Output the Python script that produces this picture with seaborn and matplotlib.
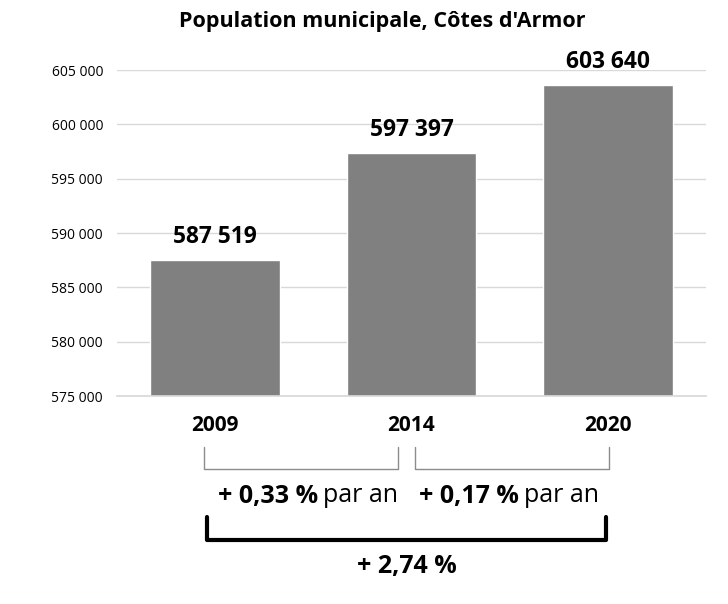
import matplotlib
matplotlib.use('Agg')
import matplotlib.pyplot as plt
import seaborn as sns
import pandas as pd

# Data
years = ['2009', '2014', '2020']
population = [587519, 597397, 603640]
yearly_growth = ['+ 0,33 %', '+ 0,17 %']
total_growth = '+ 2,74 %'
y_ticks = [575000, 580000, 585000, 590000, 595000, 600000, 605000]

sns.set_theme(style='white')
plt.rcParams['font.family'] = ['Open Sans', 'DejaVu Sans']
plt.rcParams['text.color'] = 'black'

df = pd.DataFrame({'Annee': years, 'Population': population})

fig = plt.figure(figsize=(7.28, 6.04), dpi=100)
ax = fig.add_axes([117 / 728, 1 - 396 / 604, (706 - 117) / 728, (396 - 70) / 604])

sns.barplot(data=df, x='Annee', y='Population', color='#808080', saturation=1,
            width=0.66, ax=ax, zorder=2)

ax.set_ylim(575000, 605000)
ax.set_yticks(y_ticks)
ax.set_yticklabels([f"{v:,}".replace(',', ' ') for v in y_ticks], fontsize=10)
ax.grid(axis='y', color='#d9d9d9', linewidth=1, zorder=0)
ax.set_xlabel('')
ax.set_ylabel('')
ax.tick_params(axis='y', length=0, pad=10, labelcolor='black')
ax.tick_params(axis='x', length=0, pad=14, labelcolor='black')
for lab in ax.get_xticklabels():
    lab.set_fontweight('bold')
    lab.set_fontsize(15)

# category separators on the x axis
ax.set_xticks([-0.5, 0.5, 1.5, 2.5], minor=True)
ax.tick_params(axis='x', which='minor', length=5, color='#d9d9d9', width=1, direction='out')
ax.set_xlim(-0.5, 2.5)

for s in ['top', 'right', 'left']:
    ax.spines[s].set_visible(False)
ax.spines['bottom'].set_color('#d9d9d9')

# value labels
for i, v in enumerate(population):
    ax.annotate(f"{v:,}".replace(',', ' '), (i, v), xytext=(0, 8), textcoords='offset points',
                ha='center', va='bottom', fontsize=16.4, fontweight='bold', color='black')

fig.text(382 / 728, 1 - 22 / 604, "Population municipale, Côtes d'Armor",
         ha='center', va='center', fontsize=15.5, fontweight='bold', color='black')

def fx(px):
    return px / 728

def fy(py):
    return 1 - py / 604

# thin brackets between consecutive years
for x0, x1 in [(204, 398), (415, 609)]:
    fig.add_artist(plt.Line2D([fx(x0), fx(x0), fx(x1), fx(x1)],
                              [fy(447), fy(469), fy(469), fy(447)],
                              color='#8c8c8c', linewidth=1))

# yearly growth labels
for g, xm in zip(yearly_growth, [318, 519]):
    fig.text(fx(xm), fy(496), g, ha='right', va='center', fontsize=18, fontweight='bold', color='black')
    fig.text(fx(xm + 5), fy(496), 'par an', ha='left', va='center', fontsize=18, color='black')

# thick bracket over the whole period
fig.add_artist(plt.Line2D([fx(207), fx(207), fx(606), fx(606)],
                          [fy(517), fy(540), fy(540), fy(517)],
                          color='black', linewidth=3, solid_joinstyle='round'))
fig.text(fx(407), fy(567), total_growth, ha='center', va='center', fontsize=18,
         fontweight='bold', color='black')

fig.savefig('out.png', dpi=100, facecolor='white')
